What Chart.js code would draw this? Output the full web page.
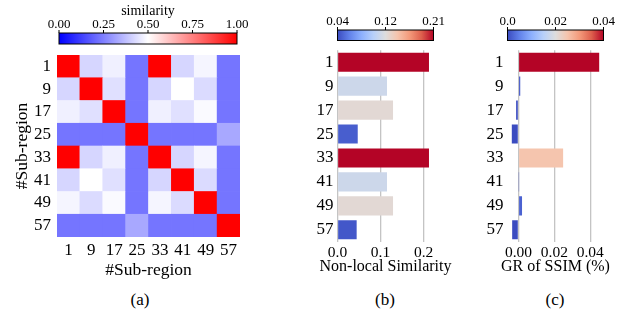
<!DOCTYPE html>
<html lang="en">
<head>
<meta charset="UTF-8">
<title>Sub-region similarity</title>
<script src="https://cdn.jsdelivr.net/npm/chart.js"></script>
<style>
    body { margin: 0; background: #fff; }
    .painel { position: absolute; width: 623px; height: 321px; left: 0; top: 0; }
    canvas { position: absolute; top: 0; }
    .rotulo { position: absolute; top: 290px; font: 17px "Liberation Serif", serif; color: #000; width: 40px; margin-left: -20px; text-align: center; }
</style>
</head>
<body>
<div class="painel">
    <canvas id="graficoA" width="250" height="290" style="left:0px"></canvas>
    <canvas id="graficoB" width="170" height="290" style="left:290px"></canvas>
    <canvas id="graficoC" width="163" height="290" style="left:460px"></canvas>
    <div class="rotulo" style="left:140px">(a)</div>
    <div class="rotulo" style="left:385px">(b)</div>
    <div class="rotulo" style="left:555px">(c)</div>
</div>

<script>
    // dados
    const regions = ['1', '9', '17', '25', '33', '41', '49', '57'];
    const similarity = [
        [1.00, 0.42, 0.47, 0.23, 1.00, 0.42, 0.48, 0.23],
        [0.42, 1.00, 0.44, 0.23, 0.42, 0.50, 0.43, 0.23],
        [0.47, 0.44, 1.00, 0.23, 0.47, 0.44, 0.49, 0.23],
        [0.23, 0.23, 0.23, 1.00, 0.23, 0.23, 0.23, 0.33],
        [1.00, 0.42, 0.47, 0.23, 1.00, 0.42, 0.48, 0.23],
        [0.42, 0.50, 0.44, 0.23, 0.42, 1.00, 0.43, 0.23],
        [0.48, 0.43, 0.49, 0.23, 0.48, 0.43, 1.00, 0.23],
        [0.23, 0.23, 0.23, 0.33, 0.23, 0.23, 0.23, 1.00]
    ];
    const nonLocalSim = [0.2125, 0.115, 0.129, 0.047, 0.2125, 0.115, 0.129, 0.0445];
    const grSsim = [0.045, 0.001, -0.0013, -0.0037, 0.0249, 0.0002, 0.002, -0.0035];

    const simBarTicks = [0, 0.25, 0.5, 0.75, 1];
    const simBarLabels = ['0.00', '0.25', '0.50', '0.75', '1.00'];
    const nlsBarTicks = [0.04, 0.125, 0.21];
    const nlsBarLabels = ['0.04', '0.12', '0.21'];
    const nlsAxisTicks = [0, 0.1, 0.2];
    const nlsAxisLabels = ['0.0', '0.1', '0.2'];
    const grBarTicks = [0, 0.02, 0.04];
    const grBarLabels = ['0.0', '0.02', '0.04'];
    const grAxisTicks = [0, 0.02, 0.04];
    const grAxisLabels = ['0.00', '0.02', '0.04'];

    const serif = '"Liberation Serif", "Times New Roman", serif';

    // mapas de cor
    const coolwarm = [[59, 76, 192], [98, 130, 234], [141, 176, 254], [184, 208, 249], [221, 221, 221],
        [245, 196, 173], [244, 154, 123], [222, 96, 77], [180, 4, 38]];

    function corCoolwarm(v, min, max) {
        let t = (v - min) / (max - min);
        t = Math.max(0, Math.min(1, t)) * (coolwarm.length - 1);
        const i = Math.min(Math.floor(t), coolwarm.length - 2);
        const f = t - i;
        const c = coolwarm[i].map((a, k) => Math.round(a + (coolwarm[i + 1][k] - a) * f));
        return `rgb(${c[0]},${c[1]},${c[2]})`;
    }

    function corBwr(v) {
        if (v < 0.5) {
            const g = Math.round(510 * v);
            return `rgb(${g},${g},255)`;
        }
        const g = Math.round(510 * (1 - v));
        return `rgb(255,${g},${g})`;
    }

    const colorbarPlugin = {
        id: 'colorbar',
        afterDraw(chart, args, opts) {
            const ctx = chart.ctx;
            const area = chart.chartArea;
            const x0 = area.left + opts.inset[0];
            const x1 = area.right - opts.inset[1];
            const y0 = opts.top;
            const h = opts.height;
            const grad = ctx.createLinearGradient(x0, 0, x1, 0);
            opts.stops.forEach((c, i) => grad.addColorStop(i / (opts.stops.length - 1), c));
            ctx.save();
            ctx.fillStyle = grad;
            ctx.fillRect(x0, y0, x1 - x0, h);
            ctx.strokeStyle = '#000';
            ctx.lineWidth = 1;
            ctx.strokeRect(x0, y0, x1 - x0, h);
            ctx.fillStyle = '#000';
            ctx.font = '13px ' + serif;
            ctx.textAlign = 'center';
            ctx.textBaseline = 'alphabetic';
            opts.ticks.forEach((v, i) => {
                const x = x0 + (v - opts.min) / (opts.max - opts.min) * (x1 - x0);
                ctx.beginPath();
                ctx.moveTo(x, y0);
                ctx.lineTo(x, y0 - 3);
                ctx.stroke();
                ctx.fillText(opts.labels[i], x, y0 - 5);
            });
            if (opts.title) {
                ctx.font = '14px ' + serif;
                ctx.fillText(opts.title, (x0 + x1) / 2, y0 - 18);
            }
            ctx.restore();
        }
    };

    // títulos dos eixos sem a compressão do maxWidth do Chart.js
    const titulosPlugin = {
        id: 'titulos',
        afterDraw(chart, args, opts) {
            const ctx = chart.ctx;
            const area = chart.chartArea;
            ctx.save();
            ctx.fillStyle = '#000';
            ctx.textAlign = 'center';
            ctx.textBaseline = 'middle';
            ctx.font = opts.size + 'px ' + serif;
            if (opts.x) {
                ctx.fillText(opts.x, (area.left + area.right) / 2, opts.xPos);
            }
            if (opts.y) {
                ctx.translate(opts.yPos, (area.top + area.bottom) / 2);
                ctx.rotate(-Math.PI / 2);
                ctx.fillText(opts.y, 0, 0);
            }
            ctx.restore();
        }
    };

    Chart.defaults.font.family = serif;
    Chart.defaults.color = '#000';

    exibirHeatmap();
    exibirBarras('graficoB', nonLocalSim, 0, 0.223, nlsAxisTicks, nlsAxisLabels, 'Non-local Similarity', 16,
        v => corCoolwarm(v, 0.04, 0.21), { min: 0.04, max: 0.21, ticks: nlsBarTicks, labels: nlsBarLabels });
    exibirBarras('graficoC', grSsim, -0.0061, 0.0474, grAxisTicks, grAxisLabels, 'GR of SSIM (%)', 16,
        v => corCoolwarm(v, 0, 0.04), { min: 0, max: 0.04, ticks: grBarTicks, labels: grBarLabels });

    function exibirHeatmap() {
        // cada dataset é uma linha da matriz, empilhada de baixo para cima
        const datasets = [];
        for (let k = 0; k < regions.length; k++) {
            const linha = similarity[regions.length - 1 - k];
            datasets.push({
                data: linha.map(() => 1),
                backgroundColor: linha.map(corBwr),
                borderWidth: 0,
                barPercentage: 1,
                categoryPercentage: 1
            });
        }
        new Chart(document.getElementById('graficoA'), {
            type: 'bar',
            data: { labels: regions, datasets: datasets },
            plugins: [colorbarPlugin, titulosPlugin],
            options: {
                responsive: false,
                animation: false,
                devicePixelRatio: 1,
                layout: { padding: { top: 55, right: 10, left: 0, bottom: 0 } },
                scales: {
                    x: {
                        stacked: true,
                        grid: { display: false, drawTicks: false },
                        border: { display: false },
                        ticks: { font: { size: 17 }, padding: 3, maxRotation: 0 },
                        afterFit: s => { s.height = 53; }
                    },
                    y: {
                        stacked: true,
                        min: 0,
                        max: regions.length,
                        grid: { display: false, drawTicks: false },
                        border: { display: false },
                        afterBuildTicks: s => { s.ticks = regions.map((r, i) => ({ value: i + 0.5 })); },
                        ticks: {
                            font: { size: 17 },
                            padding: 6,
                            callback: v => regions[regions.length - 1 - Math.floor(v)]
                        },
                        afterFit: s => { s.width = 57; }
                    }
                },
                plugins: {
                    legend: { display: false },
                    tooltip: { enabled: false },
                    titulos: { x: '#Sub-region', xPos: 270, y: '#Sub-region', yPos: 22, size: 17.5 },
                    colorbar: {
                        inset: [2, 3], top: 33, height: 11,
                        stops: ['#0000ff', '#ffffff', '#ff0000'],
                        min: 0, max: 1, ticks: simBarTicks, labels: simBarLabels,
                        title: 'similarity'
                    }
                }
            }
        });
    }

    function exibirBarras(id, valores, xmin, xmax, ticksX, labelsX, titulo, tamTitulo, cor, barra) {
        const canvas = document.getElementById(id);
        new Chart(canvas, {
            type: 'bar',
            data: {
                labels: regions,
                datasets: [{
                    data: valores,
                    backgroundColor: valores.map(cor),
                    borderWidth: 0,
                    barPercentage: 0.8,
                    categoryPercentage: 1
                }]
            },
            plugins: [colorbarPlugin, titulosPlugin],
            options: {
                indexAxis: 'y',
                responsive: false,
                animation: false,
                devicePixelRatio: 1,
                layout: { padding: { top: 50.3, right: canvas.width - 143.5, left: 0, bottom: 0 } },
                scales: {
                    x: {
                        min: xmin,
                        max: xmax,
                        grid: { color: '#c4c4c4', lineWidth: 1.3, drawTicks: false },
                        border: { display: false },
                        afterBuildTicks: s => { s.ticks = ticksX.map(v => ({ value: v })); },
                        ticks: {
                            font: { size: 15.5 },
                            padding: 2,
                            callback: (v, i) => labelsX[i]
                        },
                        afterFit: s => { s.height = 48.3; }
                    },
                    y: {
                        grid: { display: false, drawTicks: false },
                        border: { display: false },
                        ticks: { font: { size: 17 }, padding: 4 },
                        afterFit: s => { s.width = 47.5; }
                    }
                },
                plugins: {
                    legend: { display: false },
                    tooltip: { enabled: false },
                    titulos: { x: titulo, xPos: 267, size: tamTitulo },
                    colorbar: {
                        inset: [0, 0], top: 30, height: 10.5,
                        stops: coolwarm.map(c => `rgb(${c[0]},${c[1]},${c[2]})`),
                        min: barra.min, max: barra.max, ticks: barra.ticks, labels: barra.labels
                    }
                }
            }
        });
    }
</script>
</body>
</html>
